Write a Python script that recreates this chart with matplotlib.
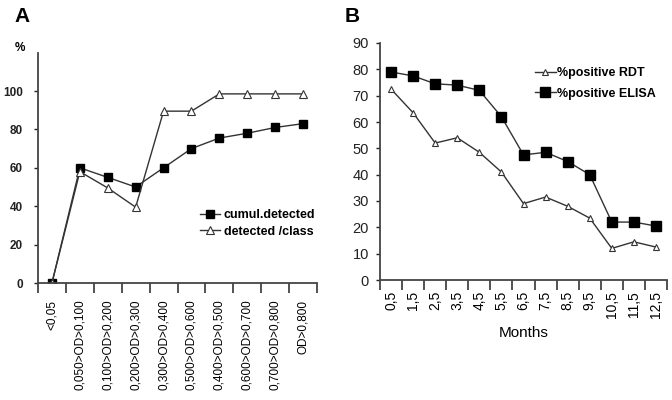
import numpy as np
import matplotlib
matplotlib.use('Agg')
import matplotlib.pyplot as plt
from matplotlib.ticker import FixedLocator

plt.rcParams['font.family'] = ['Liberation Sans', 'DejaVu Sans']

# panel A
classes = ['<0,05', '0,050>OD>0,100', '0,100>OD>0,200', '0,200>OD>0,300',
           '0,300>OD>0,400', '0,500>OD>0,600', '0,400>OD>0,500',
           '0,600>OD>0,700', '0,700>OD>0,800', 'OD>0,800']
cumul_detected = [0, 60, 55, 50, 60, 70, 75.5, 78, 81, 83]
detected_class = [0, 58, 49.5, 39.5, 89.5, 89.5, 98.5, 98.5, 98.5, 98.5]
a_yticks = [0, 20, 40, 60, 80, 100]

# panel B
months = ['0,5', '1,5', '2,5', '3,5', '4,5', '5,5', '6,5', '7,5', '8,5',
          '9,5', '10,5', '11,5', '12,5']
pos_rdt = [72.5, 63.5, 52, 54, 48.5, 41, 29, 31.5, 28, 23.5, 12, 14.5, 12.5]
pos_elisa = [79, 77.5, 74.5, 74, 72, 62, 47.5, 48.5, 45, 40, 22, 22, 20.5]
b_yticks = [0, 10, 20, 30, 40, 50, 60, 70, 80, 90]

line_col = '#333333'

fig = plt.figure(figsize=(6.72, 4.0), dpi=100)

# ---- A ----
axA = fig.add_axes([38/672, 1-283/400, (317-38)/672, (283-52.6)/400])
xa = np.arange(len(classes))
axA.plot(xa, cumul_detected, color=line_col, lw=1, marker='s', ms=5.5,
         mfc='black', mec='black', label='cumul.detected')
axA.plot(xa, detected_class, color=line_col, lw=1, marker='^', ms=6,
         mfc='white', mec=line_col, mew=0.8, label='detected /class')
axA.set_xlim(-0.5, len(classes) - 0.5)
axA.set_ylim(0, 120)
axA.spines['top'].set_visible(False)
axA.spines['right'].set_visible(False)
axA.spines['left'].set_linewidth(1.3)
axA.spines['bottom'].set_linewidth(1.3)
axA.spines['left'].set_color('#444444')
axA.spines['bottom'].set_color('#444444')
axA.set_yticks(a_yticks)
axA.set_yticklabels([str(v) for v in a_yticks], fontsize=8.5, fontweight='bold')
axA.tick_params(axis='y', length=3, width=1, pad=8, colors='#222222')
axA.set_xticks(xa)
axA.set_xticklabels(classes, rotation=90, fontsize=8.5, va='top', ha='center')
axA.tick_params(axis='x', which='major', length=0, pad=12)
axA.xaxis.set_minor_locator(FixedLocator(np.arange(-0.5, len(classes), 1.0)))
axA.tick_params(axis='x', which='minor', length=7, width=1.3, color='#444444')
leg = axA.legend(loc='upper left', bbox_to_anchor=(0.54, 0.368), frameon=False,
                 handlelength=1.6, handletextpad=0.3, labelspacing=0.35,
                 prop={'weight': 'bold', 'size': 9})
fig.text(15/672, 1-48/400, '%', fontsize=8.5, fontweight='bold', ha='left', va='center')
fig.text(14/672, 1-17/400, 'A', fontsize=15, fontweight='bold', ha='left', va='center')

# ---- B ----
axB = fig.add_axes([380/672, 1-280/400, (667-380)/672, (280-43)/400])
xb = np.arange(len(months))
axB.plot(xb, pos_rdt, color=line_col, lw=1, marker='^', ms=5,
         mfc='white', mec=line_col, mew=0.8, label='%positive RDT')
axB.plot(xb, pos_elisa, color=line_col, lw=1, marker='s', ms=7,
         mfc='black', mec='black', label='%positive ELISA')
axB.set_xlim(-0.5, len(months) - 0.5)
axB.set_ylim(0, 90)
axB.spines['top'].set_visible(False)
axB.spines['right'].set_visible(False)
for s in ('left', 'bottom'):
    axB.spines[s].set_linewidth(1.3)
    axB.spines[s].set_color('#444444')
axB.set_yticks(b_yticks)
axB.set_yticklabels([str(v) for v in b_yticks], fontsize=10.5)
axB.tick_params(axis='y', length=3, width=1, pad=5, colors='#222222')
axB.set_xticks(xb)
axB.set_xticklabels(months, rotation=90, fontsize=10, va='top', ha='center')
axB.tick_params(axis='x', which='major', length=0, pad=8)
axB.xaxis.set_minor_locator(FixedLocator(np.arange(-0.5, len(months), 1.0)))
axB.tick_params(axis='x', which='minor', length=7, width=1.3, color='#444444')
axB.set_xlabel('Months', fontsize=11, labelpad=6)
axB.legend(loc='upper left', bbox_to_anchor=(0.5, 0.946), frameon=False,
           handlelength=1.7, handletextpad=0.1, labelspacing=0.7,
           markerfirst=True, prop={'weight': 'bold', 'size': 9})
fig.text(345/672, 1-17/400, 'B', fontsize=15, fontweight='bold', ha='left', va='center')

fig.savefig('out.png', dpi=100)
